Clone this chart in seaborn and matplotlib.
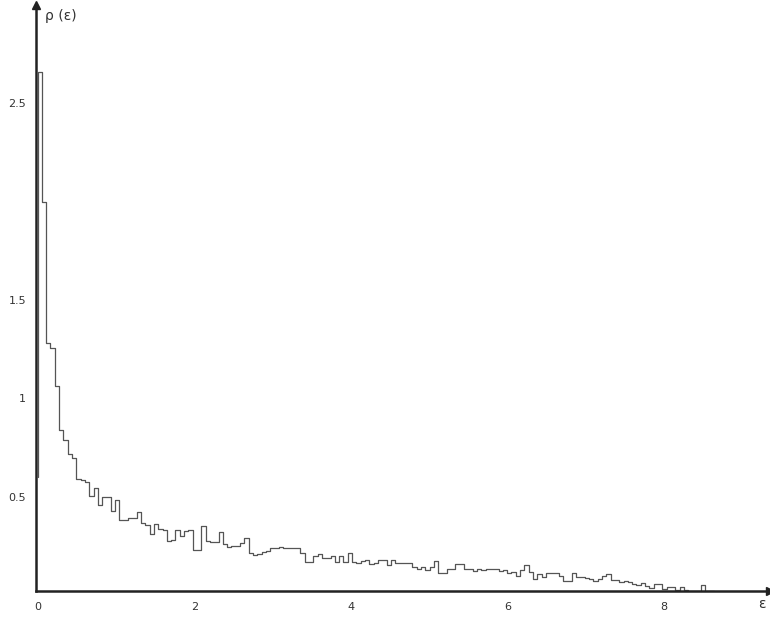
import numpy as np
import pandas as pd
import matplotlib
matplotlib.use("Agg")
import matplotlib.pyplot as plt
import seaborn as sns

# ---- data ----
bin_width = 0.055
start_level = 0.6
density = [
    2.66, 2.0, 1.28, 1.255, 1.065, 0.84, 0.79, 0.715, 0.695, 0.59,
    0.585, 0.575, 0.503, 0.544, 0.457, 0.496, 0.496, 0.428, 0.483, 0.381,
    0.381, 0.39, 0.39, 0.423, 0.367, 0.356, 0.31, 0.36, 0.335, 0.33,
    0.276, 0.28, 0.33, 0.30, 0.325, 0.33, 0.229, 0.229, 0.351, 0.276,
    0.27, 0.27, 0.322, 0.259, 0.246, 0.25, 0.25, 0.263, 0.29, 0.212,
    0.203, 0.207, 0.22, 0.224, 0.237, 0.237, 0.245, 0.237, 0.24, 0.237,
    0.24, 0.212, 0.17, 0.17, 0.2, 0.207, 0.188, 0.188, 0.2, 0.17,
    0.2, 0.17, 0.212, 0.17, 0.16, 0.175, 0.18, 0.155, 0.16, 0.178,
    0.178, 0.15, 0.18, 0.164, 0.164, 0.164, 0.164, 0.14, 0.13, 0.14,
    0.125, 0.14, 0.175, 0.11, 0.11, 0.13, 0.13, 0.155, 0.155, 0.13,
    0.13, 0.12, 0.13, 0.125, 0.13, 0.13, 0.13, 0.12, 0.127, 0.11,
    0.115, 0.095, 0.125, 0.15, 0.115, 0.08, 0.105, 0.09, 0.11, 0.11,
    0.11, 0.095, 0.073, 0.073, 0.11, 0.09, 0.09, 0.085, 0.08, 0.07,
    0.08, 0.097, 0.105, 0.077, 0.077, 0.068, 0.07, 0.068, 0.056, 0.05,
    0.06, 0.045, 0.034, 0.056, 0.056, 0.03, 0.04, 0.04, 0.025, 0.04,
    0.025, 0.02, 0.02, 0.02, 0.05, 0.02, 0.02,
]
x_ticks = [0, 2, 4, 6, 8]
x_tick_labels = ["0", "2", "4", "6", "8"]
y_ticks = [0.5, 1.0, 1.5, 2.0, 2.5]
y_tick_labels = ["0.5", "1", "1.5", "", "2.5"]

edges = np.arange(len(density) + 1) * bin_width
xs = np.concatenate([[0.0], edges])
ys = np.concatenate([[start_level], density, [density[-1]]])
df = pd.DataFrame({"energy": xs, "rho": ys})

sns.set_style("white")
fig = plt.figure(figsize=(7.7, 6.19), dpi=100)
ax = fig.add_axes([36 / 770, 28 / 619, 1 - 36 / 770, (591 - 5) / 619])

sns.lineplot(data=df, x="energy", y="rho", ax=ax, estimator=None, sort=False,
             drawstyle="steps-post", color="#555555", linewidth=0.9)

ax.set_xlim(-0.02, 9.35)
ax.set_ylim(0.02, 3.0)
for s in ["top", "right"]:
    ax.spines[s].set_visible(False)
for s in ["left", "bottom"]:
    ax.spines[s].set_color("#222222")
    ax.spines[s].set_linewidth(1.8)

ax.set_xticks(x_ticks)
ax.set_xticklabels(x_tick_labels)
ax.set_yticks(y_ticks)
ax.set_yticklabels(y_tick_labels)
ax.tick_params(axis="both", direction="out", length=5, width=1.0,
               colors="#333333", labelsize=8, labelcolor="#333333")
ax.tick_params(axis="x", pad=3)
ax.tick_params(axis="y", pad=2)
ax.set_xlabel("")
ax.set_ylabel("")

# axis arrows
ax.plot(1, 0.02, ">", color="#222222", markersize=6, transform=ax.get_yaxis_transform(),
        clip_on=False)
ax.plot(-0.02, 1, "^", color="#222222", markersize=6, transform=ax.get_xaxis_transform(),
        clip_on=False)

fig.text(45 / 770, 1 - 16 / 619, "ρ (ε)", fontsize=10, color="#333333", va="center")
fig.text(758 / 770, 1 - 604 / 619, "ε", fontsize=10, color="#333333", va="center")

fig.savefig("out.png", dpi=100)
